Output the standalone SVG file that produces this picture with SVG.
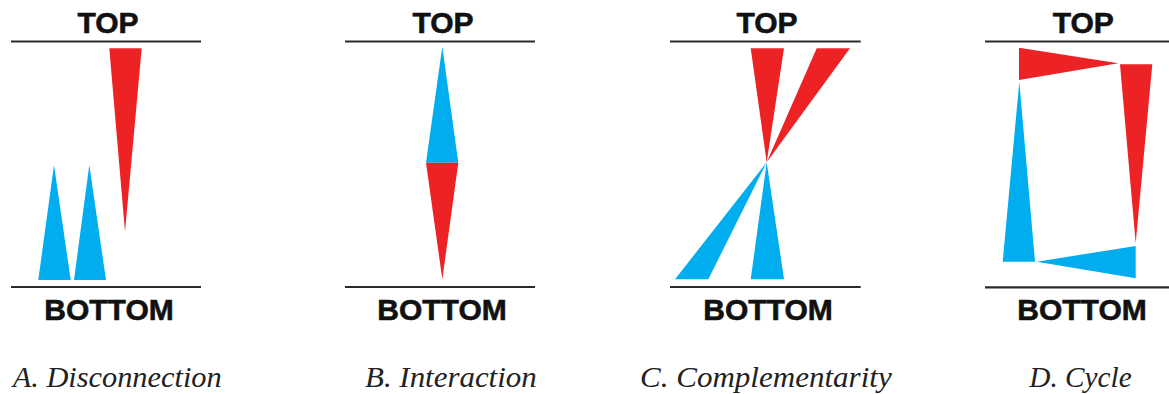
<svg xmlns="http://www.w3.org/2000/svg" width="1169" height="394" viewBox="0 0 1169 394">
<style>
.axis{stroke:#2b2b2b;stroke-width:2.2;fill:none}
.lbl{font-family:"Liberation Sans",Arial,sans-serif;font-weight:bold;font-size:30px;fill:#111;text-anchor:middle;stroke:#111;stroke-width:0.6}
.cap{font-family:"Liberation Serif","Times New Roman",serif;font-style:italic;font-size:29px;fill:#222}
.red{fill:#ED2224}
.blue{fill:#00AEEF}
</style>
<rect width="1169" height="394" fill="#fff"/>
<g id="panelA">
<line class="axis" x1="11" y1="41.5" x2="201" y2="41.5"/>
<line class="axis" x1="11" y1="287" x2="201" y2="287"/>
<text class="lbl" x="108" y="33">TOP</text>
<text class="lbl" x="109" y="320">BOTTOM</text>
<polygon class="red" points="109.3,48.3 141.7,48.3 125,231.7"/>
<polygon class="blue" points="38.3,280 70.7,280 54,165"/>
<polygon class="blue" points="74,280 106,280 89.3,165"/>
<text class="cap" x="12.7" y="387" textLength="209" lengthAdjust="spacingAndGlyphs">A. Disconnection</text>
</g>
<g id="panelB">
<line class="axis" x1="345" y1="41.5" x2="535" y2="41.5"/>
<line class="axis" x1="345" y1="287" x2="535" y2="287"/>
<text class="lbl" x="443" y="33">TOP</text>
<text class="lbl" x="442" y="320">BOTTOM</text>
<polygon class="blue" points="442.3,46.7 458.3,162.7 426,162.7"/>
<polygon class="red" points="426,162.7 458.3,162.7 442.3,279.3"/>
<text class="cap" x="365" y="387" textLength="171.7" lengthAdjust="spacingAndGlyphs">B. Interaction</text>
</g>
<g id="panelC">
<line class="axis" x1="670" y1="41.5" x2="860.7" y2="41.5"/>
<line class="axis" x1="670" y1="287" x2="860.7" y2="287"/>
<text class="lbl" x="767" y="33">TOP</text>
<text class="lbl" x="768" y="320">BOTTOM</text>
<polygon class="red" points="750.7,48.3 784,48.3 766.7,162.3"/>
<polygon class="red" points="816.7,48.3 850,48.3 766.7,162.3"/>
<polygon class="blue" points="675,279.3 708.3,279.3 766.7,162.3"/>
<polygon class="blue" points="750.7,279.3 784,279.3 766.7,162.3"/>
<text class="cap" x="640" y="387" textLength="251.7" lengthAdjust="spacingAndGlyphs">C. Complementarity</text>
</g>
<g id="panelD">
<line class="axis" x1="985" y1="41.5" x2="1175" y2="41.5"/>
<line class="axis" x1="985" y1="287.3" x2="1175" y2="287.3"/>
<text class="lbl" x="1083.3" y="33">TOP</text>
<text class="lbl" x="1082" y="320">BOTTOM</text>
<polygon class="red" points="1019,47.7 1019,80 1118.3,63.3"/>
<polygon class="red" points="1120,64.3 1152.3,64.3 1135.7,243.3"/>
<polygon class="blue" points="1019.3,81.7 1035,261.7 1002.7,261.7"/>
<polygon class="blue" points="1036.7,261.7 1135.7,246 1135.7,278.3"/>
<text class="cap" x="1029.3" y="387" textLength="102.4" lengthAdjust="spacingAndGlyphs">D. Cycle</text>
</g>
</svg>
